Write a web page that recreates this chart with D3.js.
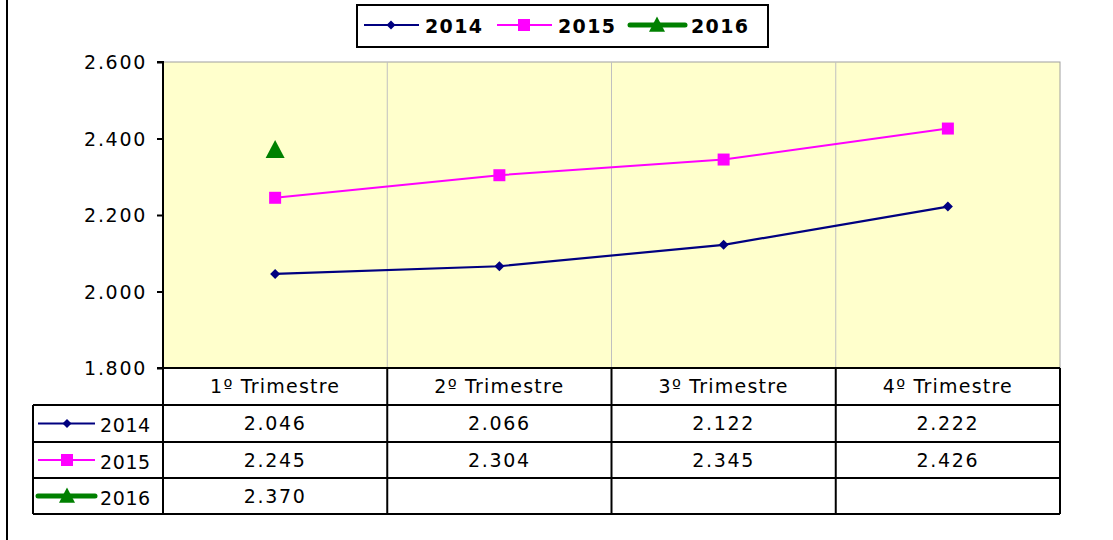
<!DOCTYPE html>
<html><head><meta charset="utf-8">
<script src="https://cdn.jsdelivr.net/npm/d3@7"></script>
<style>
html,body{margin:0;padding:0;background:#fff;}
svg{display:block;font-family:"DejaVu Sans",Verdana,sans-serif;}
</style></head>
<body><svg id="c" width="1113" height="540"></svg>
<script>
const categories = ["1º Trimestre","2º Trimestre","3º Trimestre","4º Trimestre"];
const seriesNames = ["2014","2015","2016"];
const values2014 = [2046, 2066, 2122, 2222];
const values2015 = [2245, 2304, 2345, 2426];
const values2016 = [2370, null, null, null];
const yTicks = [1800, 2000, 2200, 2400, 2600];
const colors = ["#000080","#FF00FF","#008000"];
const markers = ["diamond","square","triangle"];

const allValues = [values2014, values2015, values2016];
const svg = d3.select("#c");
const L = 163, R = 1060, T = 62, B = 368;
const x = d3.scaleBand().domain(categories).range([L, R]);
const y = d3.scaleLinear().domain([1800, 2600]).range([B, T]);
const loc = d3.formatLocale({decimal: ",", thousands: ".", grouping: [3], currency: ["", "€"]});
const fmt = loc.format(",.0f");
const FS = 19, LS = "1.7px";

// outer left border
svg.append("line").attr("x1",7).attr("x2",7).attr("y1",0).attr("y2",540).attr("stroke","#000").attr("stroke-width",2);

// plot area
svg.append("rect").attr("x",L).attr("y",T).attr("width",R-L).attr("height",B-T).attr("fill","#FFFFCC").attr("stroke","#a0a0a0").attr("stroke-width",1);
// vertical gridlines
svg.selectAll(".vg").data(categories.slice(1)).enter().append("line")
  .attr("x1",d=>x(d)).attr("x2",d=>x(d)).attr("y1",T).attr("y2",B)
  .attr("stroke","#c0c0c0").attr("stroke-width",1);

// y axis
const yAxis = d3.axisLeft(y).tickValues(yTicks).tickFormat(fmt).tickSize(6).tickPadding(10);
const ga = svg.append("g").attr("transform",`translate(${L},0)`).call(yAxis);
ga.select(".domain").attr("stroke","#000").attr("stroke-width",2).attr("d",`M-6,${T}H0V${B}H-6`);
ga.selectAll(".tick line").attr("stroke","#000").attr("stroke-width",2);
ga.selectAll(".tick text").attr("font-size",FS).attr("fill","#000").attr("letter-spacing",LS)
  .attr("font-family","DejaVu Sans").attr("dy","0.36em");

// series
const markerPath = (m, s) => {
  const h = s/2;
  if (m==="diamond") return `M0,${-h}L${h},0L0,${h}L${-h},0Z`;
  if (m==="square") return `M${-h},${-h}H${h}V${h}H${-h}Z`;
  return `M0,${-h*1.05}L${h},${h*0.85}L${-h},${h*0.85}Z`;
};
const markerSizes = [10, 12, 19];
const lineW = [2.2, 2, 5];
const cx = c => x(c) + x.bandwidth()/2;
allValues.forEach((vals, i) => {
  const pts = categories.map((c,j)=>({c, v: vals[j]})).filter(d=>d.v!=null);
  const line = d3.line().x(d=>cx(d.c)).y(d=>y(d.v));
  if (pts.length>1) svg.append("path").datum(pts).attr("d",line).attr("fill","none")
    .attr("stroke",colors[i]).attr("stroke-width",lineW[i]);
  svg.selectAll(".m"+i).data(pts).enter().append("path")
    .attr("transform",d=>`translate(${cx(d.c)},${y(d.v)})`)
    .attr("d",markerPath(markers[i], markerSizes[i])).attr("fill",colors[i]);
});

// data table
const rowTop = [405, 442, 478, 514];
const tbl = svg.append("g");
const lineAttr = sel => sel.attr("stroke","#000").attr("stroke-width",2);
[L, ...categories.slice(1).map(c=>x(c)), R].forEach(xx=>{
  lineAttr(tbl.append("line").attr("x1",xx).attr("x2",xx).attr("y1",B).attr("y2",rowTop[3]));
});
lineAttr(tbl.append("line").attr("x1",33).attr("x2",33).attr("y1",rowTop[0]).attr("y2",rowTop[3]));
rowTop.forEach(yy=>{
  lineAttr(tbl.append("line").attr("x1",33).attr("x2",R).attr("y1",yy).attr("y2",yy));
});
lineAttr(tbl.append("line").attr("x1",L).attr("x2",R).attr("y1",B).attr("y2",B));
// headers
tbl.selectAll(".hd").data(categories).enter().append("text")
  .attr("x",d=>cx(d)).attr("y",(B+rowTop[0])/2).attr("dy","0.36em")
  .attr("text-anchor","middle").attr("font-size",FS).attr("letter-spacing","1.2px").text(d=>d);
// rows
allValues.forEach((vals,i)=>{
  const yc = (rowTop[i]+rowTop[i+1])/2;
  tbl.selectAll(".v"+i).data(categories.map((c,j)=>({c,v:vals[j]})).filter(d=>d.v!=null)).enter().append("text")
    .attr("x",d=>cx(d.c)).attr("y",yc).attr("dy","0.36em").attr("text-anchor","middle")
    .attr("font-size",FS).attr("letter-spacing",LS).text(d=>fmt(d.v));
  tbl.append("line").attr("x1",38).attr("x2",95).attr("y1",yc).attr("y2",yc)
    .attr("stroke",colors[i]).attr("stroke-width",lineW[i]).attr("stroke-linecap",i===2?"round":"butt");
  tbl.append("path").attr("transform",`translate(67,${yc})`).attr("d",markerPath(markers[i],[9,12,16][i])).attr("fill",colors[i]);
  tbl.append("text").attr("x",100).attr("y",yc+2).attr("dy","0.36em").attr("font-size",FS).attr("letter-spacing","0.6px").text(seriesNames[i]);
});

// legend
const lg = svg.append("g");
lg.append("rect").attr("x",357).attr("y",5).attr("width",411).attr("height",42).attr("fill","#fff").attr("stroke","#000").attr("stroke-width",2);
const lgX = [364, 497, 630];
seriesNames.forEach((n,i)=>{
  const yc = 25;
  lg.append("line").attr("x1",lgX[i]).attr("x2",lgX[i]+55).attr("y1",yc).attr("y2",yc)
    .attr("stroke",colors[i]).attr("stroke-width",lineW[i]).attr("stroke-linecap",i===2?"round":"butt");
  lg.append("path").attr("transform",`translate(${lgX[i]+27},${yc})`).attr("d",markerPath(markers[i],[9,12,16][i])).attr("fill",colors[i]);
  lg.append("text").attr("x",lgX[i]+61).attr("y",yc+1).attr("dy","0.36em").attr("font-size",FS).attr("font-weight","bold")
    .attr("letter-spacing","1.4px").text(n);
});
</script></body></html>
